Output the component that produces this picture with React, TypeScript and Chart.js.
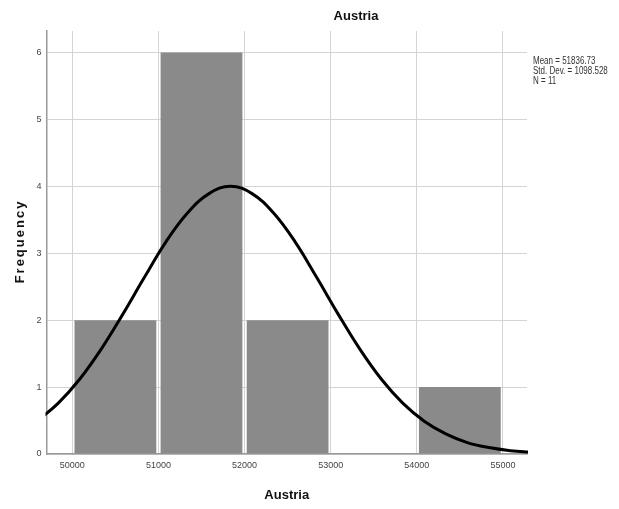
import React, { useEffect, useRef } from "react";
import { Chart, registerables } from "chart.js";

Chart.register(...registerables);

// Histogram bins (bin centers) and frequencies
const binCenters = [50500, 51500, 52500, 53500, 54500];
const frequencies = [2, 6, 2, 0, 1];

// Normal curve (evenly spaced, 250 apart)
const curveX = [49587, 49837, 50087, 50337, 50587, 50837, 51087, 51337, 51587, 51837, 52087, 52337, 52587, 52837, 53087, 53337, 53587, 53837, 54087, 54337, 54587, 54837, 55087, 55337];
const curveY = [0.49, 0.76, 1.12, 1.57, 2.09, 2.64, 3.17, 3.60, 3.89, 4.0, 3.89, 3.60, 3.17, 2.64, 2.09, 1.57, 1.12, 0.76, 0.49, 0.30, 0.17, 0.096, 0.050, 0.025];

const xTicks = [50000, 51000, 52000, 53000, 54000, 55000];
const yTicks = [0, 1, 2, 3, 4, 5, 6];

const chartTitle = "Austria";
const xTitle = "Austria";
const yTitle = "Frequency";
const statsLines = ["Mean = 51836.73", "Std. Dev. = 1098.528", "N = 11"];

export default function App() {
  const ref = useRef<HTMLCanvasElement | null>(null);

  useEffect(() => {
    if (!ref.current) return;
    const textPlugin = {
      id: "texts",
      afterDraw(chart: any) {
        const ctx = chart.ctx as CanvasRenderingContext2D;
        const a = chart.chartArea;
        ctx.save();
        ctx.fillStyle = "#111";
        ctx.textAlign = "center";
        ctx.textBaseline = "middle";
        ctx.font = "bold 13px 'Liberation Sans', Arial, sans-serif";
        ctx.fillText(chartTitle, 356, 16);
        ctx.fillText(xTitle, (a.left + a.right) / 2, 495);
        ctx.save();
        ctx.translate(20, (a.top + a.bottom) / 2);
        ctx.rotate(-Math.PI / 2);
        (ctx as any).letterSpacing = "2px";
        ctx.fillText(yTitle, 1, 0);
        ctx.restore();
        ctx.textAlign = "left";
        ctx.fillStyle = "#333";
        ctx.font = "10px 'Liberation Sans', Arial, sans-serif";
        ctx.save();
        ctx.translate(533, 0);
        ctx.scale(0.8, 1);
        statsLines.forEach((s, i) => ctx.fillText(s, 0, 61 + i * 10));
        ctx.restore();
        ctx.restore();
      },
    };

    const chart = new Chart(ref.current, {
      type: "bar",
      data: {
        datasets: [
          {
            type: "line",
            data: curveX.map((x, i) => ({ x, y: curveY[i] })),
            borderColor: "#000",
            borderWidth: 3,
            pointRadius: 0,
            tension: 0.4,
            fill: false,
            clip: 1,
            order: 0,
          } as any,
          {
            type: "bar",
            data: binCenters.map((x, i) => ({ x, y: frequencies[i] })),
            backgroundColor: "#8a8a8a",
            borderWidth: 0,
            barPercentage: 0.95,
            categoryPercentage: 1,
            order: 1,
          } as any,
        ],
      },
      options: {
        responsive: false,
        animation: false,
        layout: { padding: { top: 31, right: 92, bottom: 0, left: 0 } },
        plugins: { legend: { display: false }, tooltip: { enabled: false }, title: { display: false } },
        scales: {
          x: {
            type: "linear",
            min: 49700,
            max: 55280,
            offset: false,
            afterBuildTicks: (s: any) => { s.ticks = xTicks.map((v) => ({ value: v })); },
            afterFit: (s: any) => { s.height = 55; },
            ticks: {
              autoSkip: false,
              maxRotation: 0,
              padding: 6,
              color: "#444",
              font: { size: 9, family: "'Liberation Sans', Arial, sans-serif" },
              callback: (v: any) => String(v),
            },
            grid: { color: "#d4d4d4", lineWidth: 1, drawTicks: false, offset: false },
            border: { color: "#9a9a9a", width: 1.5 },
          },
          y: {
            type: "linear",
            min: 0,
            max: 6.32,
            afterBuildTicks: (s: any) => { s.ticks = yTicks.map((v) => ({ value: v })); },
            afterFit: (s: any) => { s.width = 46.5; },
            ticks: {
              padding: 5,
              color: "#444",
              font: { size: 9, family: "'Liberation Sans', Arial, sans-serif" },
              callback: (v: any) => String(v),
            },
            grid: { color: "#d4d4d4", lineWidth: 1, drawTicks: false },
            border: { color: "#9a9a9a", width: 1.5 },
          },
        },
      } as any,
      plugins: [textPlugin],
    });
    return () => chart.destroy();
  }, []);

  return (
    <div style={{ position: "fixed", left: 0, top: 0, width: 619, height: 509, background: "#fff" }}>
      <canvas ref={ref} width={619} height={509} style={{ display: "block" }} />
    </div>
  );
}
